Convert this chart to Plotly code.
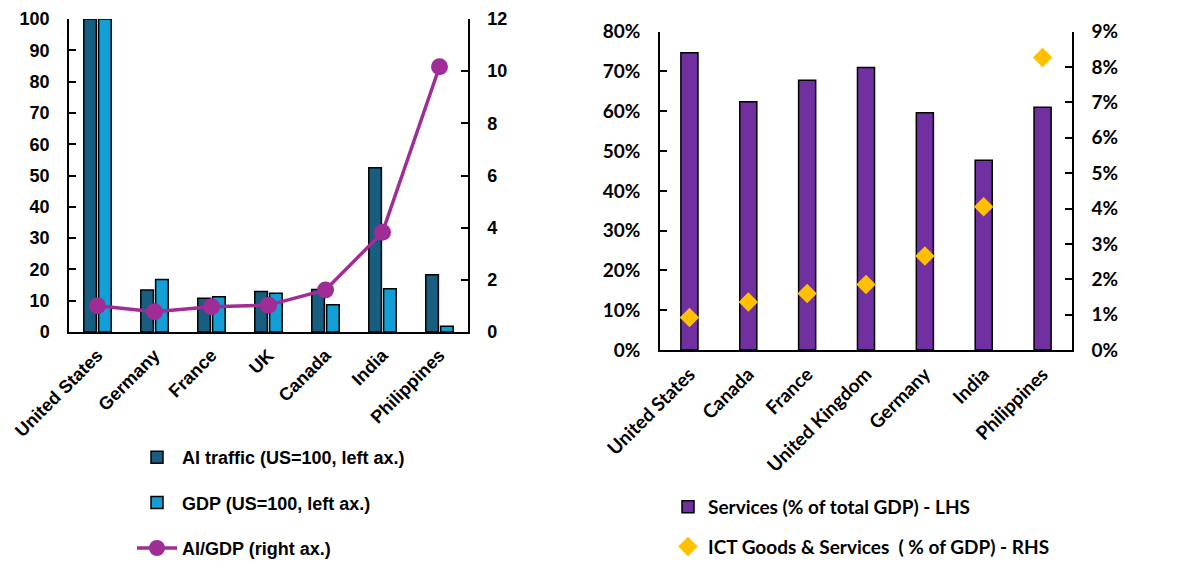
import plotly.graph_objects as go

W, H = 1203, 562

# ---- Left chart data ----
countries_left = ["United States", "Germany", "France", "UK", "Canada", "India", "Philippines"]
ai_traffic = [100, 13.4, 10.8, 12.9, 13.6, 52.5, 18.3]
gdp_index = [100, 16.8, 11.3, 12.4, 8.7, 13.8, 1.8]
ai_per_gdp = [1.01, 0.78, 0.97, 1.03, 1.61, 3.82, 10.17]

# ---- Right chart data ----
countries_right = ["United States", "Canada", "France", "United Kingdom", "Germany", "India", "Philippines"]
services_share = [0.747, 0.624, 0.678, 0.710, 0.596, 0.477, 0.610]
ict_share = [0.0092, 0.0136, 0.0160, 0.0185, 0.0266, 0.0405, 0.0827]

left_font = dict(family="Liberation Sans Narrow, Arial Narrow, Liberation Sans, Arial, sans-serif",
                 size=18, color="black", weight="bold")
right_font = dict(family="Lato, Carlito, Calibri, sans-serif", size=19, color="black", weight="bold")

def px_x(p):
    return p / W

def px_y(p):
    return 1 - p / H

fig = go.Figure()

fig.add_trace(go.Bar(
    x=countries_left, y=ai_traffic, name="AI traffic (US=100, left ax.)",
    marker=dict(color="#175E80", line=dict(color="black", width=1.5)),
    xaxis="x", yaxis="y", legend="legend", legendgroup="a",
))
fig.add_trace(go.Bar(
    x=countries_left, y=gdp_index, name="GDP (US=100, left ax.)",
    marker=dict(color="#129FD6", line=dict(color="black", width=1.5)),
    xaxis="x", yaxis="y", legend="legend", legendgroup="b",
))
fig.add_trace(go.Scatter(
    x=countries_left, y=ai_per_gdp, name="AI/GDP (right ax.)", mode="lines+markers",
    line=dict(color="#A02C96", width=3.5),
    marker=dict(color="#A02C96", size=17),
    xaxis="x", yaxis="y2", legend="legend", legendgroup="c",
))
fig.add_trace(go.Bar(
    x=countries_right, y=services_share, name="Services (% of total GDP) - LHS",
    marker=dict(color="#7030A0", line=dict(color="black", width=1.5)),
    width=0.29,
    xaxis="x2", yaxis="y3", legend="legend2", legendgroup="d",
))
fig.add_trace(go.Scatter(
    x=countries_right, y=ict_share, name="ICT Goods & Services  ( % of GDP) - RHS", mode="markers",
    marker=dict(color="#FFC000", size=15, symbol="diamond"),
    xaxis="x2", yaxis="y4", legend="legend2", legendgroup="e",
))

axis_common = dict(showgrid=False, zeroline=False, showline=True, linecolor="black", linewidth=1.5,
                   ticks="inside", ticklen=7, tickcolor="black", tickwidth=1.5, automargin=False)
xaxis_common = dict(showgrid=False, zeroline=False, showline=True, linecolor="black", linewidth=1.5,
                    ticks="", tickangle=-45, automargin=False, range=[-0.5, 6.5])

fig.update_layout(
    width=W, height=H,
    margin=dict(l=0, r=0, t=0, b=0, autoexpand=False),
    paper_bgcolor="white", plot_bgcolor="white",
    barmode="group", bargap=0.48, bargroupgap=0.15,
    xaxis=dict(domain=[px_x(69), px_x(468)], anchor="y",
               tickfont=left_font, ticklabelstandoff=4, **xaxis_common),
    yaxis=dict(domain=[px_y(332), px_y(19)], anchor="x", range=[0, 100], dtick=10,
               tickfont=left_font, ticklabelstandoff=14, **axis_common),
    yaxis2=dict(overlaying="y", side="right", anchor="x", range=[0, 12], dtick=2,
                tickfont=left_font, ticklabelstandoff=14, **axis_common),
    xaxis2=dict(domain=[px_x(660), px_x(1072)], anchor="y3",
                tickfont=right_font, ticklabelstandoff=4, **xaxis_common),
    yaxis3=dict(domain=[px_y(350), px_y(31.7)], anchor="x2", range=[0, 0.8], dtick=0.1,
                tickformat=".0%", tickfont=right_font, ticklabelstandoff=14, **axis_common),
    yaxis4=dict(overlaying="y3", side="right", anchor="x2", range=[0, 0.09], dtick=0.01,
                tickformat=".0%", tickfont=right_font, ticklabelstandoff=14, **axis_common),
    legend=dict(x=px_x(132), xanchor="left", y=px_y(439), yanchor="top",
                font=left_font, tracegroupgap=19, bgcolor="rgba(0,0,0,0)", itemwidth=40),
    legend2=dict(x=px_x(668), xanchor="left", y=px_y(488), yanchor="top",
                 font=right_font, tracegroupgap=12, bgcolor="rgba(0,0,0,0)", itemwidth=30),
    showlegend=True,
)

fig.write_html("out.html")
